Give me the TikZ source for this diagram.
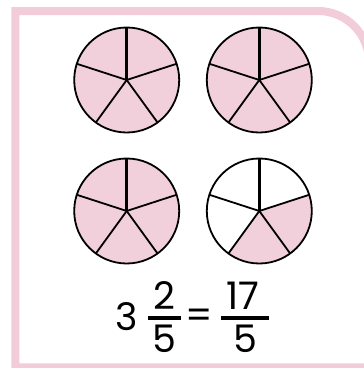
\documentclass[tikz,border=0pt]{standalone}
\usepackage{fontspec}
\setmainfont{Poppins}
\definecolor{piepink}{RGB}{242,208,219}
\definecolor{framepink}{RGB}{242,204,216}

\begin{document}
\begin{tikzpicture}[x=1pt,y=1pt]
  \tikzstyle{rim}=[draw,line width=1.8pt]
  \tikzstyle{spoke}=[line width=1.8pt]
  \tikzstyle{digit}=[inner sep=0pt,font=\fontsize{38}{38}\selectfont]
  \tikzstyle{bar}=[line width=3.5pt]
  \useasboundingbox (0,0) rectangle (364,368);
  \clip (0,0) rectangle (364,368);
  % frame
  \draw[framepink,line width=8pt] (15.5,0.7) -- (15.5,357) -- (318,357) arc (90:0:51) -- (369,0.7) -- cycle;
  % pies
  \foreach \cx/\cy/\n [count=\i] in {126.7/288/5,259.3/288/5,126.7/157/5,259.3/157/2} {
    \coordinate (c\i) at (\cx,\cy);
    \fill[piepink] (c\i) -- ++(18:52.5) arc (18:18-72*\n:52.5) -- cycle;
    \draw[rim] (c\i) circle (52.5);
    \draw[spoke,line width=2.6pt] (c\i) -- ++(90:52.5);
    \foreach \a in {18,-54,-126,162}
      \draw[spoke] (c\i) -- ++(\a:52.5);
  }
  % equation
  \node[digit] (whole) at (127,51.5) {3};
  \node[digit] (num) at (164.5,72.5) {2};
  \node[digit] (den) at (164.5,29) {5};
  \node[digit] (eq) at (199.5,49) {=};
  \node[digit] (num2) at (243,72.5) {17};
  \node[digit] (den2) at (245,29) {5};
  \draw[bar] (148,50) -- (181,50);
  \draw[bar] (221,50) -- (269,50);
\end{tikzpicture}
\end{document}
